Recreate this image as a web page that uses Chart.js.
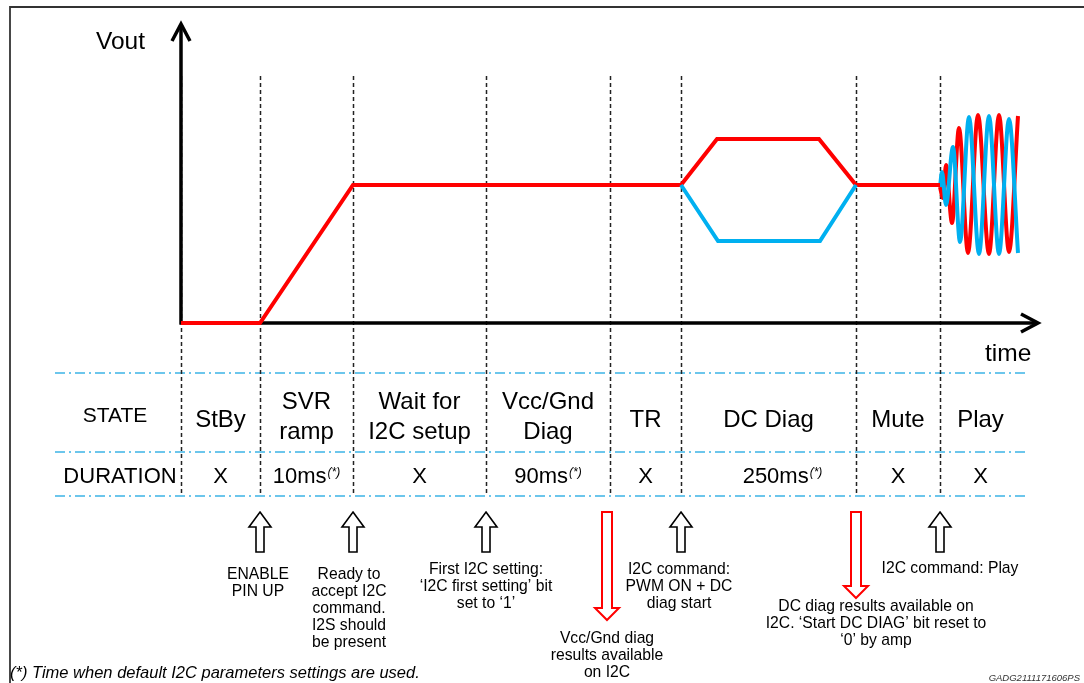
<!DOCTYPE html>
<html>
<head>
<meta charset="utf-8">
<script src="https://cdn.jsdelivr.net/npm/chart.js@4.4.1/dist/chart.umd.min.js"></script>
<style>
    html, body { margin: 0; padding: 0; background: #fff; }
    canvas { display: block; }
</style>
</head>
<body>
<canvas id="timing" width="1084" height="683"></canvas>
<script>
// time in arbitrary ticks from the Vout origin, Vout in arbitrary units above 0
const phaseEdges = [0, 79, 172, 305, 429, 500, 675, 759];
const tableEnd = 840;
const stateLabels = [['StBy'], ['SVR', 'ramp'], ['Wait for', 'I2C setup'], ['Vcc/Gnd', 'Diag'], ['TR'], ['DC Diag'], ['Mute'], ['Play']];
const durationValues = ['X', '10ms', 'X', '90ms', 'X', '250ms', 'X', 'X'];
const durationStarred = [false, true, false, true, false, true, false, false];

// Vout waveform (red = positive output, blue = negative output)
const redTime = [0, 79, 172, 500, 536, 638, 675, 759];
const redVout = [0, 0, 138, 138, 184, 184, 138, 138];
const blueTime = [500, 537, 639, 675];
const blueVout = [138, 82, 82, 138];

// play burst, read peak by peak
const redPlayTime = [759, 762, 765, 771, 778, 787, 797, 808, 818, 828, 837];
const redPlayVout = [136, 125, 158, 100, 195, 70, 208, 69, 208, 71, 207];
const bluePlayTime = [759, 761, 765, 772, 779, 788, 798, 808, 818, 828, 837];
const bluePlayVout = [136, 151, 118, 176, 81, 206, 69, 207, 69, 204, 70];

// events under the table: up = command sent, down = result available
const upArrowEdges = [1, 2, 3, 5, 7];
const downArrowEdges = [4, 6];
const notes = [
    { edge: 1, lines: ['ENABLE', 'PIN UP'] },
    { edge: 2, lines: ['Ready to', 'accept I2C', 'command.', 'I2S should', 'be present'] },
    { edge: 3, lines: ['First I2C setting:', '\u2018I2C first setting\u2019 bit', 'set to \u20181\u2019'] },
    { edge: 4, lines: ['Vcc/Gnd diag', 'results available', 'on I2C'] },
    { edge: 5, lines: ['I2C command:', 'PWM ON + DC', 'diag start'] },
    { edge: 6, lines: ['DC diag results available on', 'I2C. \u2018Start DC DIAG\u2019 bit reset to', '\u20180\u2019 by amp'] },
    { edge: 7, lines: ['I2C command: Play'] }
];

const RED = '#ff0000';
const BLUE = '#00b0f0';
const FONT = '"Liberation Sans", Arial, sans-serif';

function toPoints(xs, ys) {
    return xs.map((x, i) => ({ x: x, y: ys[i] }));
}

function lineSet(xs, ys, color, smooth) {
    return {
        data: toPoints(xs, ys),
        showLine: true,
        borderColor: color,
        borderWidth: 4,
        pointRadius: 0,
        borderJoinStyle: 'miter',
        cubicInterpolationMode: smooth ? 'monotone' : 'default',
        tension: 0
    };
}

function centerText(ctx, lines, cx, firstY, lineH) {
    lines.forEach((s, i) => ctx.fillText(s, cx, firstY + i * lineH));
}

function upArrow(ctx, x, top, bottom) {
    ctx.beginPath();
    ctx.moveTo(x, top);
    ctx.lineTo(x + 11, top + 15);
    ctx.lineTo(x + 4, top + 15);
    ctx.lineTo(x + 4, bottom);
    ctx.lineTo(x - 4, bottom);
    ctx.lineTo(x - 4, top + 15);
    ctx.lineTo(x - 11, top + 15);
    ctx.closePath();
    ctx.fillStyle = '#fff';
    ctx.fill();
    ctx.strokeStyle = '#000';
    ctx.lineWidth = 1.6;
    ctx.stroke();
}

function downArrow(ctx, x, top, tip) {
    ctx.beginPath();
    ctx.moveTo(x - 5, top);
    ctx.lineTo(x + 5, top);
    ctx.lineTo(x + 5, tip - 12);
    ctx.lineTo(x + 12, tip - 12);
    ctx.lineTo(x, tip);
    ctx.lineTo(x - 12, tip - 12);
    ctx.lineTo(x - 5, tip - 12);
    ctx.closePath();
    ctx.fillStyle = '#fff';
    ctx.fill();
    ctx.strokeStyle = RED;
    ctx.lineWidth = 2;
    ctx.stroke();
}

const diagramPlugin = {
    id: 'diagram',
    beforeDatasetsDraw(chart) {
        const ctx = chart.ctx;
        const xs = chart.scales.x, ys = chart.scales.y;
        const px = t => xs.getPixelForValue(t);
        const py = v => ys.getPixelForValue(v);
        const x0 = px(0), y0 = py(0);
        ctx.save();

        // frame
        ctx.strokeStyle = '#333';
        ctx.lineWidth = 1.8;
        ctx.beginPath();
        ctx.moveTo(10, 683);
        ctx.lineTo(10, 7);
        ctx.lineTo(1084, 7);
        ctx.stroke();

        // table rows (dash-dot)
        const rowLines = [373, 452, 496];
        ctx.strokeStyle = '#3cb4e6';
        ctx.lineWidth = 1.5;
        ctx.setLineDash([10, 4, 2, 4]);
        rowLines.forEach(y => {
            ctx.beginPath();
            ctx.moveTo(55, y);
            ctx.lineTo(1028, y);
            ctx.stroke();
        });

        // phase boundaries
        ctx.strokeStyle = '#222';
        ctx.lineWidth = 1.5;
        ctx.setLineDash([4, 3]);
        phaseEdges.forEach(t => {
            const x = Math.round(px(t)) + 0.5;
            ctx.beginPath();
            ctx.moveTo(x, 76);
            ctx.lineTo(x, 496);
            ctx.stroke();
        });
        ctx.setLineDash([]);

        // axes with open arrowheads
        ctx.strokeStyle = '#000';
        ctx.lineWidth = 3.5;
        ctx.lineJoin = 'miter';
        ctx.beginPath();
        ctx.moveTo(x0, y0 + 1.5);
        ctx.lineTo(x0, 25);
        ctx.moveTo(x0 - 1.5, y0);
        ctx.lineTo(1036, y0);
        ctx.stroke();
        ctx.beginPath();
        ctx.moveTo(x0 - 9, 41);
        ctx.lineTo(x0, 24);
        ctx.lineTo(x0 + 9, 41);
        ctx.moveTo(1021, y0 - 9);
        ctx.lineTo(1038, y0);
        ctx.lineTo(1021, y0 + 9);
        ctx.stroke();

        ctx.fillStyle = '#000';
        ctx.textAlign = 'left';
        ctx.textBaseline = 'alphabetic';
        ctx.font = '24.5px ' + FONT;
        ctx.fillText('Vout', 96, 49);
        ctx.fillText('time', 985, 361);

        // table text
        ctx.textAlign = 'center';
        ctx.font = '21px ' + FONT;
        ctx.fillText('STATE', 115, 422);
        ctx.font = '22px ' + FONT;
        ctx.fillText('DURATION', 120, 483);
        stateLabels.forEach((lines, i) => {
            const right = i + 1 < phaseEdges.length ? phaseEdges[i + 1] : tableEnd;
            const cx = px((phaseEdges[i] + right) / 2);
            ctx.font = '24px ' + FONT;
            if (lines.length === 1) {
                ctx.fillText(lines[0], cx, 427);
            } else {
                centerText(ctx, lines, cx, 409, 30);
            }
        });
        durationValues.forEach((s, i) => {
            const right = i + 1 < phaseEdges.length ? phaseEdges[i + 1] : tableEnd;
            let cx = px((phaseEdges[i] + right) / 2);
            if (s === '250ms') cx += 14;
            ctx.font = '22px ' + FONT;
            const w1 = ctx.measureText(s).width;
            if (!durationStarred[i]) {
                ctx.textAlign = 'center';
                ctx.fillText(s, cx, 483);
                return;
            }
            ctx.font = 'italic 12px ' + FONT;
            const w2 = ctx.measureText('(*)').width;
            const left = cx - (w1 + w2 + 1) / 2;
            ctx.textAlign = 'left';
            ctx.font = '22px ' + FONT;
            ctx.fillText(s, left, 483);
            ctx.font = 'italic 12px ' + FONT;
            ctx.fillText('(*)', left + w1 + 1, 476);
            ctx.textAlign = 'center';
        });

        // event arrows
        upArrowEdges.forEach(e => upArrow(ctx, px(phaseEdges[e]), 512, 552));
        downArrow(ctx, px(phaseEdges[downArrowEdges[0]]) - 3, 512, 620);
        downArrow(ctx, px(phaseEdges[downArrowEdges[1]]), 512, 598);

        // event notes
        const noteLayout = { 1: [-2, 579], 2: [-4, 579], 3: [0, 574], 4: [-3, 643], 5: [-2, 574], 6: [20, 611], 7: [10, 573] };
        ctx.font = '15.7px ' + FONT;
        ctx.fillStyle = '#000';
        ctx.textAlign = 'center';
        notes.forEach(n => {
            const [dx, y] = noteLayout[n.edge];
            centerText(ctx, n.lines, px(phaseEdges[n.edge]) + dx, y, 17);
        });

        // footnotes
        ctx.textAlign = 'left';
        ctx.font = 'italic 16.5px ' + FONT;
        ctx.fillText('(*) Time when default I2C parameters settings are used.', 10, 678);
        ctx.textAlign = 'right';
        ctx.font = 'italic 9.5px ' + FONT;
        ctx.fillStyle = '#333';
        ctx.fillText('GADG2111171606PS', 1080, 681);
        ctx.restore();
    }
};

new Chart(document.getElementById('timing'), {
    type: 'scatter',
    data: {
        datasets: [
            lineSet(blueTime, blueVout, BLUE, false),
            lineSet(redTime, redVout, RED, false),
            lineSet(bluePlayTime, bluePlayVout, BLUE, true),
            lineSet(redPlayTime, redPlayVout, RED, true)
        ]
    },
    options: {
        responsive: false,
        animation: false,
        events: [],
        layout: { padding: 0 },
        plugins: {
            legend: { display: false },
            tooltip: { enabled: false }
        },
        scales: {
            x: { type: 'linear', min: -181, max: 903, display: false },
            y: { type: 'linear', min: -360, max: 323, display: false }
        }
    },
    plugins: [diagramPlugin]
});
</script>
</body>
</html>
